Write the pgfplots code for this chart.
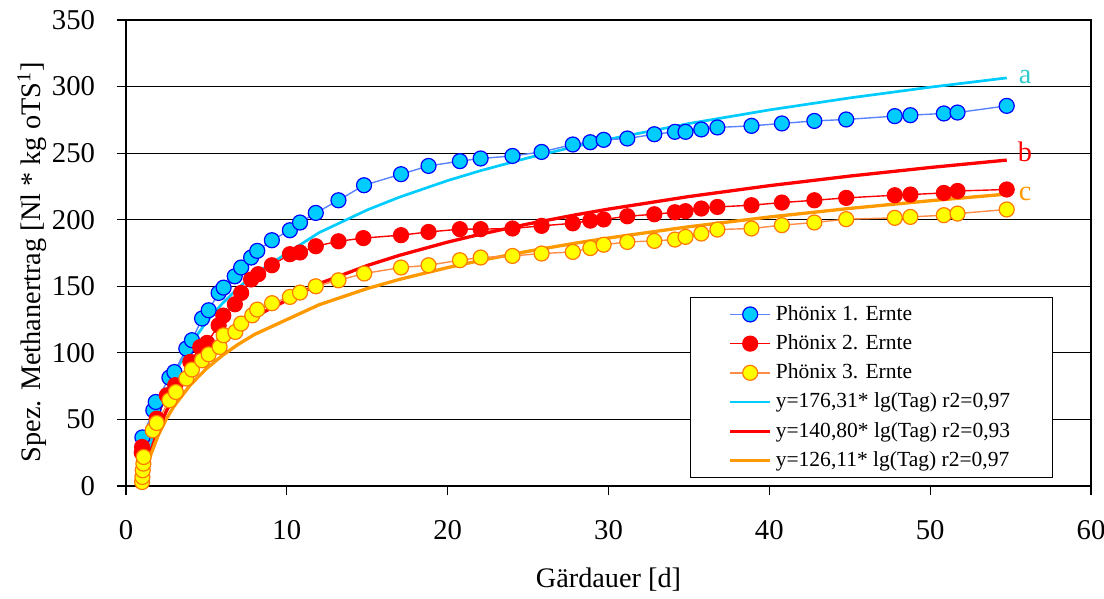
\documentclass[border=0pt]{standalone}
\usepackage{pgfplots}
\pgfplotsset{compat=1.18}
\usepackage{fontspec}
\setmainfont{Liberation Serif}
\definecolor{bfill}{RGB}{0,204,255}
\definecolor{bdraw}{RGB}{0,0,255}
\definecolor{bline}{RGB}{90,130,255}
\definecolor{rfill}{RGB}{255,0,0}
\definecolor{yfill}{RGB}{255,255,0}
\definecolor{ydraw}{RGB}{255,120,0}
\definecolor{yline}{RGB}{255,140,70}
\definecolor{fcyan}{RGB}{0,204,255}
\definecolor{fred}{RGB}{255,0,0}
\definecolor{forange}{RGB}{255,153,0}
\definecolor{acol}{RGB}{51,204,204}
\begin{document}
\begin{tikzpicture}
\begin{axis}[
  width=482.5bp, height=233bp, scale only axis,
  xmin=0, xmax=60, ymin=0, ymax=350,
  xtick={0,10,...,60}, ytick={0,50,...,350},
  xtick pos=left, ytick pos=left,
  tick align=outside, major tick length=4.5bp,
  tick style={black, line width=0.6bp},
  axis line style={black, line width=0.75bp},
  ymajorgrids, grid style={black, line width=0.5bp},
  /pgf/number format/assume math mode=true,
  ticklabel style={font=\fontsize{14.4}{17}\selectfont},
  xticklabel style={yshift=-9bp},
  yticklabel style={xshift=-7.5bp},
  xlabel={Gärdauer [d]},
  ylabel={Spez. Methanertrag [Nl * kg oTS\textsuperscript{1}]},
  xlabel style={font=\fontsize{14.2}{17}\selectfont, at={(axis description cs:0.5,-0.2)}, anchor=center},
  ylabel style={font=\fontsize{14.2}{17}\selectfont, at={(axis description cs:-0.0974,0.48)}, anchor=center},
  legend style={at={(rel axis cs:0.5845,0.4056)}, anchor=north west,
    draw=black, line width=0.5bp, fill=white,
    font=\fontsize{10.8}{13}\selectfont,
    inner xsep=19bp, inner ysep=2bp, row sep=1.65bp},
  legend cell align=left,
  legend image code/.code={\draw[#1,mark repeat=2,mark phase=2] plot coordinates {(0bp,0bp) (10bp,0bp) (20bp,0bp)};},
]
% fit lines
\addplot[fcyan, line width=1.35bp, forget plot] coordinates {
(1,0) (1.5,31.05) (2,53.07) (2.5,70.16) (3,84.12) (4,106.15) (5,123.24) (6,137.20) (7,149.00) (8,159.22) (12,190.27) (15,207.36) (17,216.94) (20,229.39) (22,236.68) (25,246.47) (28,255.15) (30,260.43) (35,272.24) (40,282.46) (45,291.48) (50,299.54) (54.76,306.51)};
\addplot[fred, line width=1.65bp, forget plot] coordinates {
(1,0) (1.5,24.79) (2,42.39) (2.5,56.03) (3,67.18) (4,84.77) (5,98.42) (6,109.56) (7,118.99) (8,127.16) (12,151.95) (15,165.59) (17,173.25) (20,183.19) (22,189.01) (25,196.83) (28,203.76) (30,207.98) (35,217.41) (40,225.57) (45,232.77) (50,239.22) (54.76,244.78)};
\addplot[forange, line width=1.65bp, forget plot] coordinates {
(1,0) (1.5,22.21) (2,37.96) (2.5,50.18) (3,60.17) (4,75.93) (5,88.15) (6,98.13) (7,106.58) (8,113.89) (12,136.10) (15,148.32) (17,155.17) (20,164.07) (22,169.29) (25,176.29) (28,182.50) (30,186.28) (35,194.72) (40,202.04) (45,208.49) (50,214.26) (54.76,219.24)};
% data
\addplot[bline, line width=0.7bp, mark=*, mark size=3.75bp, mark options={fill=bfill, draw=bdraw, line width=0.6bp}] coordinates {
(1.02,36.5) (1.70,56.9) (1.85,63.1) (2.70,81.4) (3.01,85.6) (3.75,103.2) (4.10,109.5) (4.73,125.8) (5.14,132.0) (5.76,145.0) (6.07,149.0) (6.76,157.5) (7.16,164.1) (7.78,171.6) (8.16,176.6) (9.07,184.6) (10.19,192.1) (10.82,197.9) (11.80,205.1) (13.21,214.6) (14.80,225.9) (17.10,234.2) (18.81,240.4) (20.76,244.0) (22.05,246.0) (24.03,247.9) (25.84,250.9) (27.78,256.5) (28.87,258.2) (29.7,260.0) (31.17,261.0) (32.85,264.2) (34.13,266.0) (34.79,266.0) (35.77,267.8) (36.77,269.3) (38.89,270.5) (40.78,272.3) (42.80,274.2) (44.78,275.3) (47.80,277.8) (48.77,278.5) (50.85,279.8) (51.70,280.5) (54.76,285.5)};
\addlegendentry{Phönix 1. Ernte}
\addplot[rfill, line width=0.7bp, mark=*, mark size=3.75bp, mark options={fill=rfill, draw=rfill, line width=0.6bp}] coordinates {
(0.98,25) (1.0,29.3) (1.91,50.6) (2.54,68.1) (3.06,75.7) (4.0,93.2) (4.62,104.4) (5.04,107.5) (5.76,120.7) (6.05,128) (6.77,136.5) (7.16,145.0) (7.78,155.1) (8.22,159.1) (9.07,165.8) (10.19,174.1) (10.82,175.4) (11.80,180.1) (13.21,183.8) (14.76,186.2) (17.10,188.4) (18.81,190.8) (20.76,192.9) (22.05,192.9) (24.03,193.4) (25.84,195.4) (27.78,197.3) (28.87,199.3) (29.7,200.2) (31.17,202.6) (32.85,204.1) (34.13,205.6) (34.79,206.4) (35.77,208.4) (36.77,209.6) (38.89,210.9) (40.78,212.9) (42.80,214.6) (44.78,216.4) (47.80,218.4) (48.77,218.9) (50.85,220.1) (51.70,221.6) (54.76,222.7)};
\addlegendentry{Phönix 2. Ernte}
\addplot[yline, line width=0.7bp, mark=*, mark size=3.75bp, mark options={fill=yfill, draw=ydraw, line width=0.6bp}] coordinates {
(1.0,3.0) (1.02,6.8) (1.04,11.8) (1.08,16.8) (1.1,21.8) (1.66,41.8) (1.91,47.3) (2.70,64.4) (3.1,70.6) (3.75,80.7) (4.10,87.5) (4.73,94.4) (5.14,98.9) (5.82,104.4) (6.07,113.2) (6.80,115.7) (7.16,122.0) (7.85,128.2) (8.16,132.5) (9.08,137.3) (10.19,142.0) (10.82,145.3) (11.80,150.0) (13.21,154.5) (14.81,159.6) (17.10,164.1) (18.81,165.8) (20.76,169.6) (22.05,171.6) (24.03,172.8) (25.84,174.6) (27.78,175.8) (28.87,178.7) (29.7,181.2) (31.17,183.3) (32.85,184.1) (34.13,185.1) (34.79,187.1) (35.77,189.6) (36.77,192.6) (38.89,193.4) (40.78,195.9) (42.80,197.9) (44.78,200.4) (47.80,201.4) (48.77,202.1) (50.85,203.4) (51.70,204.6) (54.76,207.7)};
\addlegendentry{Phönix 3. Ernte}
\addlegendimage{fcyan, line width=1.35bp}
\addlegendentry{y=176,31* lg(Tag) r2=0,97}
\addlegendimage{fred, line width=1.65bp}
\addlegendentry{y=140,80* lg(Tag) r2=0,93}
\addlegendimage{forange, line width=1.65bp}
\addlegendentry{y=126,11* lg(Tag) r2=0,97}
\node[font=\fontsize{14.2}{17}\selectfont, text=acol] at (axis cs:55.9,307.3) {a};
\node[font=\fontsize{14.2}{17}\selectfont, text=fred] at (axis cs:55.9,251) {b};
\node[font=\fontsize{14.2}{17}\selectfont, text=forange] at (axis cs:55.9,219.4) {c};
\end{axis}
\pgfresetboundingbox
\path[use as bounding box] (-63bp,-56.5bp) rectangle (489bp,243bp);
\end{tikzpicture}
\end{document}
